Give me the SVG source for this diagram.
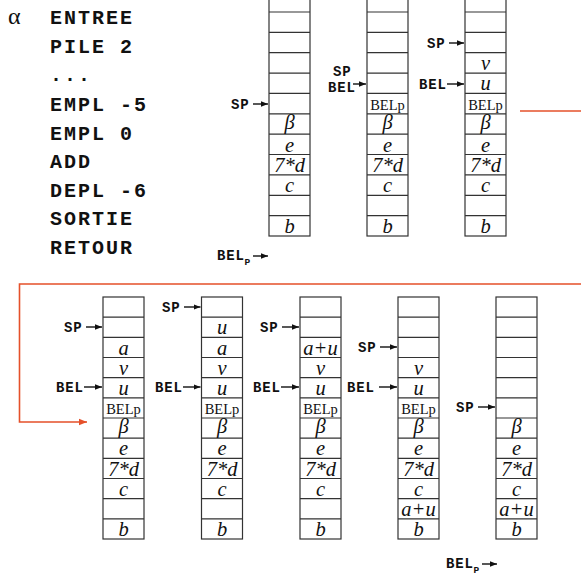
<svg xmlns="http://www.w3.org/2000/svg" width="581" height="576" viewBox="0 0 581 576">
<style>
.cell{fill:#fff;stroke:#333;stroke-width:1.2}
.sep{fill:none;stroke:#333;stroke-width:1.2}
.v{font-family:"Liberation Serif","Times New Roman",serif;font-style:italic;font-size:20.5px;text-anchor:middle;fill:#111}
.bp{font-family:"Liberation Serif","Times New Roman",serif;font-size:14.5px;text-anchor:middle;fill:#111}
.code{font-family:"Liberation Mono","Courier New",monospace;font-weight:bold;font-size:20px;letter-spacing:2px;fill:#111}
.lab{font-family:"Liberation Mono","Courier New",monospace;font-weight:bold;font-size:14px;letter-spacing:0.8px;fill:#111}
.sub{font-family:"Liberation Mono","Courier New",monospace;font-weight:bold;font-size:9.5px;fill:#111}
.ptr{fill:none;stroke:#111;stroke-width:1.4;marker-end:url(#ah)}
.red{fill:none;stroke:#e5502a;stroke-width:1.6}
</style>
<defs>
<marker id="ah" viewBox="0 0 10 10" refX="10" refY="5" markerWidth="5" markerHeight="5" markerUnits="strokeWidth" orient="auto"><path d="M0,1 L10,5 L0,9 z" fill="#111"/></marker>
<marker id="rh" viewBox="0 0 10 10" refX="10" refY="5" markerWidth="6" markerHeight="5" markerUnits="strokeWidth" orient="auto"><path d="M0,1 L10,5 L0,9 z" fill="#e5502a"/></marker>
</defs>
<rect width="581" height="576" fill="#fff"/>

<g id="code">
<text x="8" y="24" style="font-family:'Liberation Serif','Times New Roman',serif;font-size:24px;fill:#111">α</text>
<text class="code" x="50" y="24">ENTREE</text>
<text class="code" x="50" y="53">PILE 2</text>
<text class="code" x="50" y="81">...</text>
<text class="code" x="50" y="111">EMPL -5</text>
<text class="code" x="50" y="140">EMPL 0</text>
<text class="code" x="50" y="168">ADD</text>
<text class="code" x="50" y="197">DEPL -6</text>
<text class="code" x="50" y="225">SORTIE</text>
<text class="code" x="50" y="254">RETOUR</text>
</g>

<g id="stack-t1">
<rect class="cell" x="269" y="-8.4" width="41" height="244.4"/>
<path class="sep" d="M269 12H310M269 32.3H310M269 52.7H310M269 73.1H310M269 93.4H310M269 113.8H310M269 134.2H310M269 154.5H310M269 174.9H310M269 195.3H310M269 215.6H310"/>
<text class="v" x="289.5" y="129">β</text>
<text class="v" x="289.5" y="151.5">e</text>
<text class="v" x="289.5" y="171.9">7*d</text>
<text class="v" x="289.5" y="192.3">c</text>
<text class="v" x="289.5" y="233">b</text>
</g>

<g id="stack-t2">
<rect class="cell" x="367" y="-8.4" width="41" height="244.4"/>
<path class="sep" d="M367 12H408M367 32.3H408M367 52.7H408M367 73.1H408M367 93.4H408M367 113.8H408M367 134.2H408M367 154.5H408M367 174.9H408M367 195.3H408M367 215.6H408"/>
<text class="bp" x="387.5" y="109.8">BELp</text>
<text class="v" x="387.5" y="129">β</text>
<text class="v" x="387.5" y="151.5">e</text>
<text class="v" x="387.5" y="171.9">7*d</text>
<text class="v" x="387.5" y="192.3">c</text>
<text class="v" x="387.5" y="233">b</text>
</g>

<g id="stack-t3">
<rect class="cell" x="465" y="-8.4" width="41" height="244.4"/>
<path class="sep" d="M465 12H506M465 32.3H506M465 52.7H506M465 73.1H506M465 93.4H506M465 113.8H506M465 134.2H506M465 154.5H506M465 174.9H506M465 195.3H506M465 215.6H506"/>
<text class="v" x="485.5" y="70">v</text>
<text class="v" x="485.5" y="90.4">u</text>
<text class="bp" x="485.5" y="109.8">BELp</text>
<text class="v" x="485.5" y="129">β</text>
<text class="v" x="485.5" y="151.5">e</text>
<text class="v" x="485.5" y="171.9">7*d</text>
<text class="v" x="485.5" y="192.3">c</text>
<text class="v" x="485.5" y="233">b</text>
</g>

<g id="stack-b1">
<rect class="cell" x="103" y="297" width="41" height="242"/>
<path class="sep" d="M103 317.2H144M103 337.3H144M103 357.5H144M103 377.7H144M103 397.9H144M103 418H144M103 438.2H144M103 458.4H144M103 478.5H144M103 498.7H144M103 518.9H144"/>
<text class="v" x="123.5" y="354.5">a</text>
<text class="v" x="123.5" y="374.7">v</text>
<text class="v" x="123.5" y="394.9">u</text>
<text class="bp" x="123.5" y="414">BELp</text>
<text class="v" x="123.5" y="433">β</text>
<text class="v" x="123.5" y="455.4">e</text>
<text class="v" x="123.5" y="475.5">7*d</text>
<text class="v" x="123.5" y="495.7">c</text>
<text class="v" x="123.5" y="536">b</text>
</g>

<g id="stack-b2">
<rect class="cell" x="201.5" y="297" width="41" height="242"/>
<path class="sep" d="M201.5 317.2H242.5M201.5 337.3H242.5M201.5 357.5H242.5M201.5 377.7H242.5M201.5 397.9H242.5M201.5 418H242.5M201.5 438.2H242.5M201.5 458.4H242.5M201.5 478.5H242.5M201.5 498.7H242.5M201.5 518.9H242.5"/>
<text class="v" x="222" y="334.3">u</text>
<text class="v" x="222" y="354.5">a</text>
<text class="v" x="222" y="374.7">v</text>
<text class="v" x="222" y="394.9">u</text>
<text class="bp" x="222" y="414">BELp</text>
<text class="v" x="222" y="433">β</text>
<text class="v" x="222" y="455.4">e</text>
<text class="v" x="222" y="475.5">7*d</text>
<text class="v" x="222" y="495.7">c</text>
<text class="v" x="222" y="536">b</text>
</g>

<g id="stack-b3">
<rect class="cell" x="300" y="297" width="41" height="242"/>
<path class="sep" d="M300 317.2H341M300 337.3H341M300 357.5H341M300 377.7H341M300 397.9H341M300 418H341M300 438.2H341M300 458.4H341M300 478.5H341M300 498.7H341M300 518.9H341"/>
<text class="v" x="320.5" y="354.5">a+u</text>
<text class="v" x="320.5" y="374.7">v</text>
<text class="v" x="320.5" y="394.9">u</text>
<text class="bp" x="320.5" y="414">BELp</text>
<text class="v" x="320.5" y="433">β</text>
<text class="v" x="320.5" y="455.4">e</text>
<text class="v" x="320.5" y="475.5">7*d</text>
<text class="v" x="320.5" y="495.7">c</text>
<text class="v" x="320.5" y="536">b</text>
</g>

<g id="stack-b4">
<rect class="cell" x="398" y="297" width="41" height="242"/>
<path class="sep" d="M398 317.2H439M398 337.3H439M398 357.5H439M398 377.7H439M398 397.9H439M398 418H439M398 438.2H439M398 458.4H439M398 478.5H439M398 498.7H439M398 518.9H439"/>
<text class="v" x="418.5" y="374.7">v</text>
<text class="v" x="418.5" y="394.9">u</text>
<text class="bp" x="418.5" y="414">BELp</text>
<text class="v" x="418.5" y="433">β</text>
<text class="v" x="418.5" y="455.4">e</text>
<text class="v" x="418.5" y="475.5">7*d</text>
<text class="v" x="418.5" y="495.7">c</text>
<text class="v" x="418.5" y="515.9">a+u</text>
<text class="v" x="418.5" y="536">b</text>
</g>

<g id="stack-b5">
<rect class="cell" x="496" y="297" width="41" height="242"/>
<path class="sep" d="M496 317.2H537M496 337.3H537M496 357.5H537M496 377.7H537M496 397.9H537M496 418H537M496 438.2H537M496 458.4H537M496 478.5H537M496 498.7H537M496 518.9H537"/>
<text class="v" x="516.5" y="433">β</text>
<text class="v" x="516.5" y="455.4">e</text>
<text class="v" x="516.5" y="475.5">7*d</text>
<text class="v" x="516.5" y="495.7">c</text>
<text class="v" x="516.5" y="515.9">a+u</text>
<text class="v" x="516.5" y="536">b</text>
</g>

<g id="pointers">
<text class="lab" x="231" y="109">SP</text>
<path class="ptr" d="M253 104H268"/>
<text class="lab" x="217" y="260">BEL</text><text class="sub" x="244.5" y="265">P</text>
<path class="ptr" d="M253 256H268"/>

<text class="lab" x="333" y="76">SP</text>
<text class="lab" x="328" y="92">BEL</text>
<path class="ptr" d="M353 84H366"/>

<text class="lab" x="427" y="48">SP</text>
<path class="ptr" d="M449 43H464"/>
<text class="lab" x="419" y="89">BEL</text>
<path class="ptr" d="M447 84H464"/>

<text class="lab" x="64" y="332">SP</text>
<path class="ptr" d="M86 327H102"/>
<text class="lab" x="56" y="392">BEL</text>
<path class="ptr" d="M84 387H102"/>

<text class="lab" x="162" y="312">SP</text>
<path class="ptr" d="M184 307H200.5"/>
<text class="lab" x="155" y="392">BEL</text>
<path class="ptr" d="M183 387H200.5"/>

<text class="lab" x="260" y="332">SP</text>
<path class="ptr" d="M282 327H299"/>
<text class="lab" x="253" y="392">BEL</text>
<path class="ptr" d="M281 387H299"/>

<text class="lab" x="358" y="352">SP</text>
<path class="ptr" d="M380 347H397"/>
<text class="lab" x="347" y="392">BEL</text>
<path class="ptr" d="M379 387H397"/>

<text class="lab" x="456" y="412">SP</text>
<path class="ptr" d="M478 407H495"/>

<text class="lab" x="446" y="568">BEL</text><text class="sub" x="473.5" y="573">P</text>
<path class="ptr" d="M482 564H497"/>
</g>

<g id="connectors">
<path class="red" d="M520 111H581"/>
<path class="red" d="M581 284H19.5V422H87" marker-end="url(#rh)"/>
</g>
</svg>
